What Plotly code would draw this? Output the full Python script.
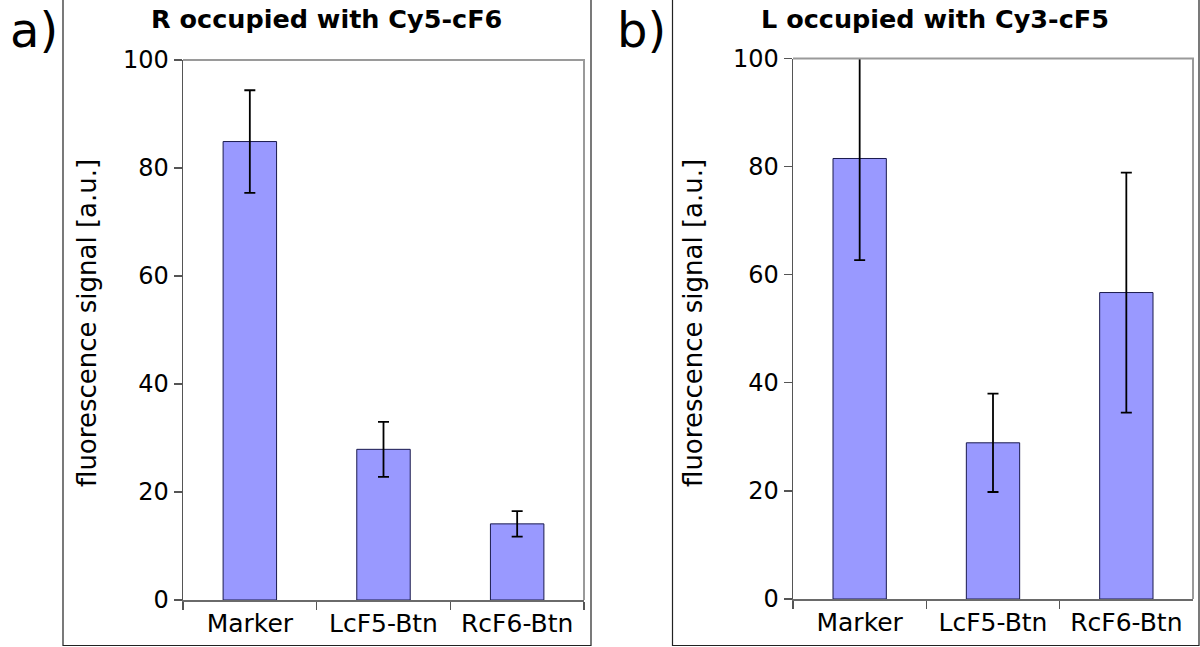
import plotly.graph_objects as go

categories = ["Marker", "LcF5-Btn", "RcF6-Btn"]
values_a = [84.9, 27.9, 14.1]
errors_a = [9.5, 5.1, 2.35]
values_b = [81.5, 28.9, 56.7]
errors_b = [18.8, 9.1, 22.2]
title_a = "R occupied with Cy5-cF6"
title_b = "L occupied with Cy3-cF5"
y_title = "fluorescence signal [a.u.]"
y_ticks = [0, 20, 40, 60, 80, 100]

W, H = 1200, 647
FONT = "DejaVu Sans"
BAR = "#9999ff"
EDGE = "#1a1a4d"

def px(x):
    return x / W

def py(y):
    return 1 - y / H

fig = go.Figure()
for vals, errs, xa, ya in [(values_a, errors_a, "x", "y"), (values_b, errors_b, "x2", "y2")]:
    fig.add_trace(go.Bar(
        x=categories, y=vals, xaxis=xa, yaxis=ya, width=0.4,
        marker=dict(color=BAR, line=dict(color=EDGE, width=1)),
        error_y=dict(type="data", array=errs, visible=True, color="black",
                     thickness=1.8, width=5.5),
        showlegend=False, hoverinfo="skip",
    ))

axis_common_x = dict(
    type="category", showline=True, linecolor="#6a6a6a", linewidth=1.5,
    ticks="outside", tickson="boundaries", ticklen=8, tickcolor="#555", tickwidth=1.2,
    showgrid=False, tickfont=dict(family=FONT, size=25, color="black"), fixedrange=True,
    automargin=False,
)
axis_common_y = dict(
    range=[0, 100], tickvals=y_ticks, showline=True, linecolor="#555", linewidth=1.5,
    ticks="outside", ticklen=8, tickcolor="#555", tickwidth=1.2,
    showgrid=False, zeroline=False, tickfont=dict(family=FONT, size=24, color="black"),
    fixedrange=True, automargin=False,
)

dom_a = dict(x=[px(183), px(584)], y=[py(600), py(60)])
dom_b = dict(x=[px(793), px(1193)], y=[py(599), py(58.5)])

fig.update_layout(
    width=W, height=H, margin=dict(l=0, r=0, t=0, b=0, autoexpand=False),
    paper_bgcolor="white", plot_bgcolor="white",
    xaxis=dict(domain=dom_a["x"], anchor="y", **axis_common_x),
    yaxis=dict(domain=dom_a["y"], anchor="x", **axis_common_y),
    xaxis2=dict(domain=dom_b["x"], anchor="y2", **axis_common_x),
    yaxis2=dict(domain=dom_b["y"], anchor="x2", **axis_common_y),
    bargap=0.6,
)

# light-grey top and right edges of each plot area
for d in (dom_a, dom_b):
    fig.add_shape(type="path", xref="paper", yref="paper",
                  path="M %f,%f L %f,%f L %f,%f" % (d["x"][0], d["y"][1], d["x"][1], d["y"][1],
                                                   d["x"][1], d["y"][0]),
                  line=dict(color="#9a9a9a", width=2))

# panel frames
for x0, x1 in [(63, 591), (672.5, 1199)]:
    fig.add_shape(type="rect", xref="paper", yref="paper",
                  x0=px(x0), x1=px(x1), y0=py(645.5), y1=py(-5),
                  line=dict(color="#222", width=1.2), layer="below")

ann = []
for text, cx in [(title_a, 326), (title_b, 935)]:
    ann.append(dict(text="<b>%s</b>" % text, x=px(cx), y=py(19), xref="paper", yref="paper",
                    xanchor="center", yanchor="middle", showarrow=False,
                    font=dict(family=FONT, size=25.5, color="black")))
for cx, cy in [(87, 323), (693, 323)]:
    ann.append(dict(text=y_title, x=px(cx), y=py(cy), xref="paper", yref="paper",
                    xanchor="center", yanchor="middle", textangle=-90, showarrow=False,
                    font=dict(family=FONT, size=26, color="black")))
for text, lx in [("a)", 8), ("b)", 615)]:
    ann.append(dict(text=text, x=px(lx), y=py(30), xref="paper", yref="paper",
                    xanchor="left", yanchor="middle", showarrow=False,
                    font=dict(family=FONT, size=48, color="black")))
fig.update_layout(annotations=ann)

fig.write_html("out.html", config=dict(displayModeBar=False, staticPlot=True),
               post_script="document.body.style.margin='0';")
